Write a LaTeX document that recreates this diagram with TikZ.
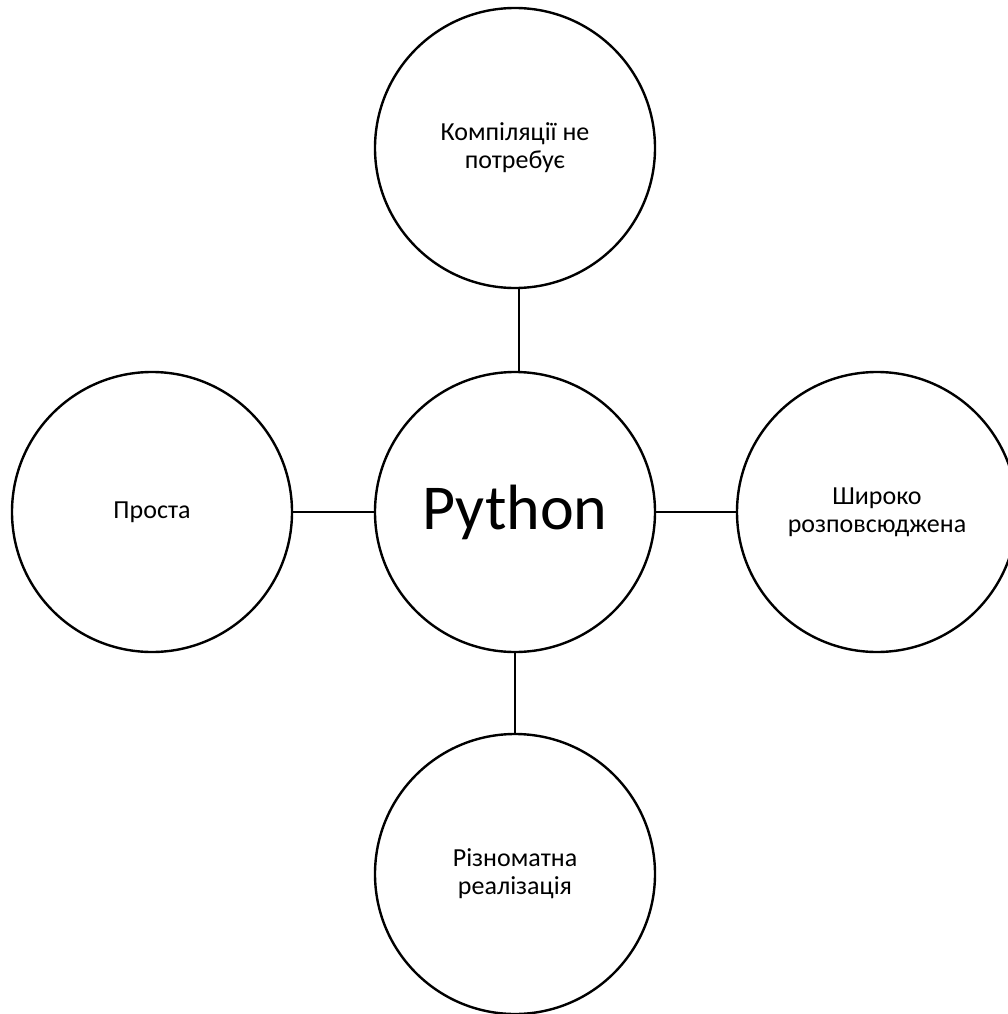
\documentclass[tikz,border=0pt]{standalone}
\usepackage{fontspec}
\setmainfont{Carlito}
\begin{document}
\begin{tikzpicture}[x=1pt,y=-1pt,
  bubble/.style={circle, draw, line width=2.4pt, minimum size=280pt, inner sep=0pt,
    align=center, font=\fontsize{26}{28}\selectfont},
  link/.style={line width=2.4pt}]
\useasboundingbox (0,0) rectangle (1008,1014);
% central topic and its four features
\node[bubble, font=\fontsize{64}{70}\selectfont] (py) at (515,512) {Python};
\node[bubble] (top) at (515,148) {Компіляції не\\потребує};
\node[bubble] (left) at (152,512) {Проста};
\node[bubble] (right) at (877,512) {Широко\\розповсюджена};
\node[bubble] (bottom) at (515,874) {Різноматна\\реалізація};
% spokes
\draw[link] ([xshift=4pt]top.south) -- ([xshift=4pt]py.north);
\draw[link] (left.east) -- (py.west);
\draw[link] (py.east) -- (right.west);
\draw[link] (py.south) -- (bottom.north);
\end{tikzpicture}
\end{document}
